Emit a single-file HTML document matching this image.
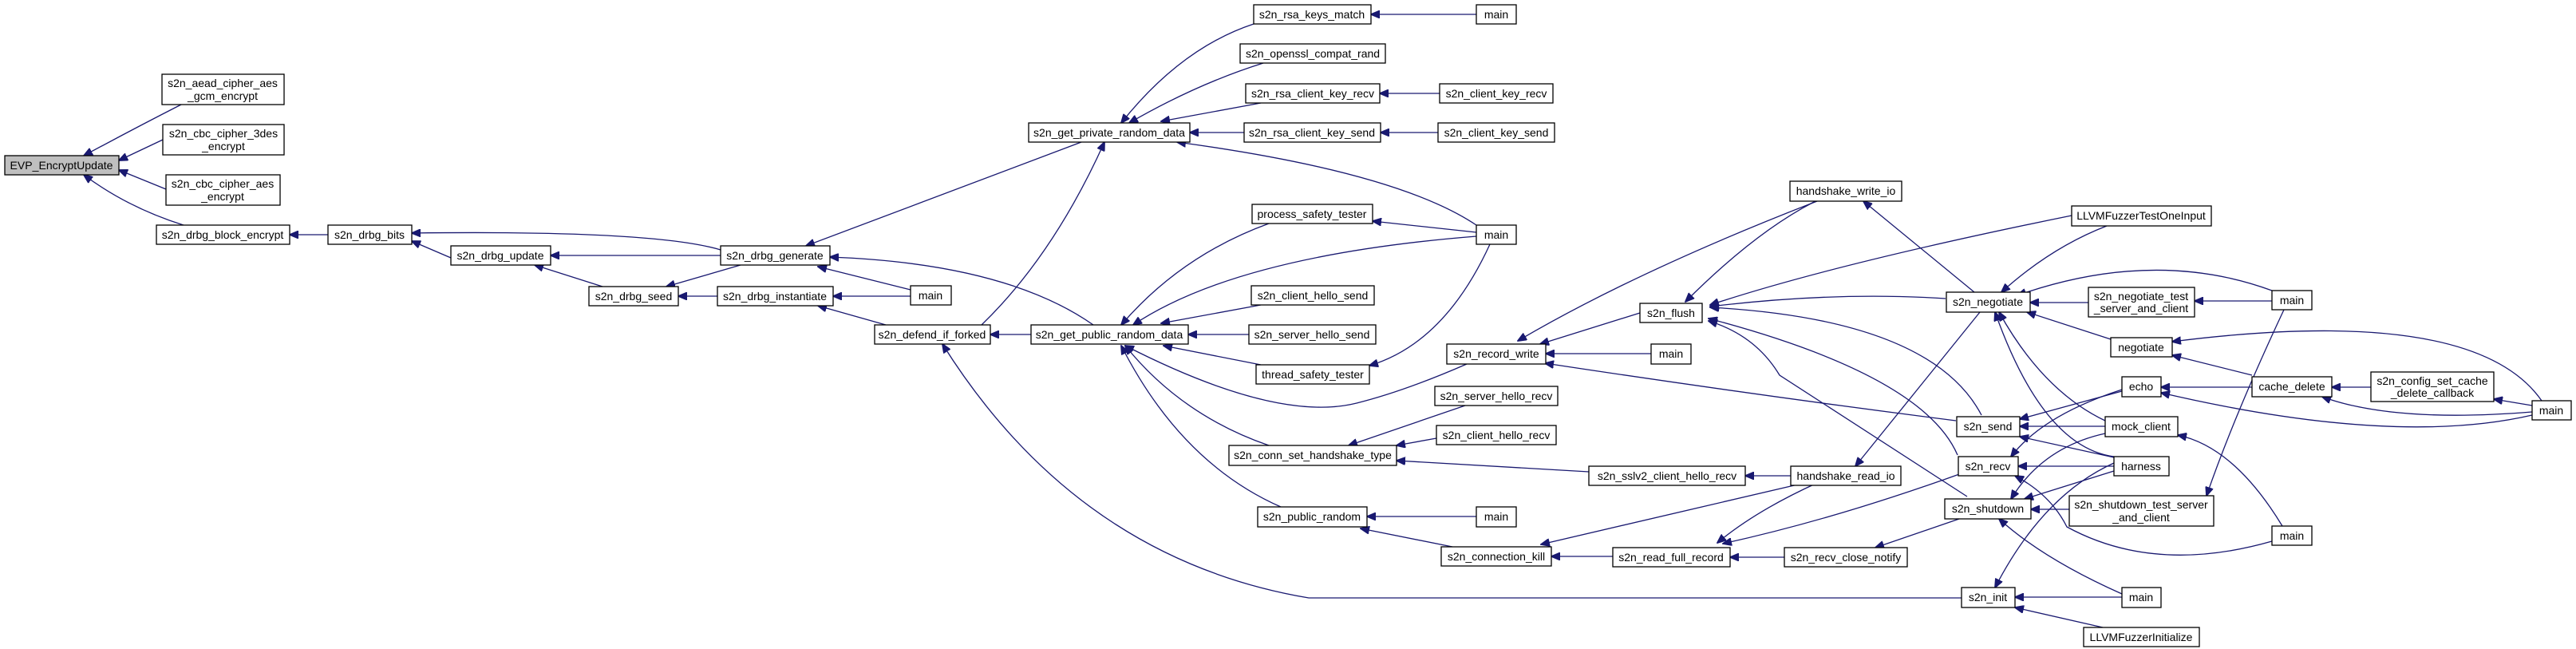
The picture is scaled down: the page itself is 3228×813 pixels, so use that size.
<!DOCTYPE html>
<html><head><meta charset="utf-8"><style>
html,body{margin:0;padding:0;background:#fff}
svg{display:block}
text{font-family:"Liberation Sans",sans-serif;font-size:14px;fill:#000}
rect{fill:#fff;stroke:#000;stroke-width:1.3}
path{fill:none;stroke:#191970;stroke-width:1.3}
</style></head><body>
<svg width="3228" height="813" viewBox="0 0 3228 813" xmlns="http://www.w3.org/2000/svg">
<defs><marker id="a" markerWidth="12" markerHeight="10" refX="11" refY="5" orient="auto" markerUnits="userSpaceOnUse"><polygon points="0,0 12,5 0,10" fill="#191970" stroke="#191970"/></marker></defs>
<g marker-end="url(#a)">
<path d="M227,131 Q170,160 105,195"/>
<path d="M204,175 L149,201"/>
<path d="M208,237 L149,213"/>
<path d="M230,282 Q160,260 105,219"/>
<path d="M411,294 L363,294"/>
<path d="M565,323 L516,302"/>
<path d="M903,313 Q820,288 516,292"/>
<path d="M903,320 L690,320"/>
<path d="M755,359 L670,332"/>
<path d="M928,332 L835,359"/>
<path d="M899,371 L850,371"/>
<path d="M1141,363 L1025,334"/>
<path d="M1141,371 L1044,371"/>
<path d="M1355,178 L1010,308"/>
<path d="M1370,407 Q1260,330 1040,322"/>
<path d="M1110,407 L1025,383"/>
<path d="M1230,407 Q1320,320 1384,178"/>
<path d="M1292,419 L1241,419"/>
<path d="M2458,749 L1640,749 Q1350,700 1181,431"/>
<path d="M1571,30 Q1480,60 1405,154"/>
<path d="M1583,79 Q1500,105 1415,154"/>
<path d="M1580,129 L1455,152"/>
<path d="M1559,166 L1491,166"/>
<path d="M1850,282 Q1750,215 1475,178"/>
<path d="M1850,18 L1718,18"/>
<path d="M1804,117 L1729,117"/>
<path d="M1802,166 L1730,166"/>
<path d="M1850,291 L1720,277"/>
<path d="M1850,296 Q1550,320 1420,407"/>
<path d="M1590,280 Q1480,320 1405,407"/>
<path d="M1580,382 L1455,405"/>
<path d="M1565,419 L1489,419"/>
<path d="M1580,457 L1458,433"/>
<path d="M1867,306 Q1810,430 1716,458"/>
<path d="M1838,456 Q1760,490 1700,505 Q1600,530 1410,433"/>
<path d="M1590,558 Q1480,520 1410,433"/>
<path d="M1605,635 Q1480,580 1405,433"/>
<path d="M1836,508 L1690,558"/>
<path d="M1800,549 L1750,558"/>
<path d="M1991,591 L1750,577"/>
<path d="M1850,647 L1713,647"/>
<path d="M1820,685 L1705,662"/>
<path d="M2021,697 L1944,697"/>
<path d="M2257,606 L1931,682"/>
<path d="M2055,392 L1930,431"/>
<path d="M2069,443 L1937,443"/>
<path d="M2277,252 Q2050,340 1902,427"/>
<path d="M2451,527 Q2200,495 1936,455"/>
<path d="M2275,252 Q2200,290 2112,378"/>
<path d="M2596,270 Q2300,330 2143,382"/>
<path d="M2438,374 Q2300,365 2143,384"/>
<path d="M2483,520 Q2420,400 2143,385"/>
<path d="M2465,622 Q2400,580 2230,470 Q2200,420 2141,402"/>
<path d="M2453,570 Q2410,470 2141,399"/>
<path d="M2244,596 L2187,596"/>
<path d="M2277,605 Q2200,640 2152,680"/>
<path d="M2458,593 Q2300,650 2159,681"/>
<path d="M2236,698 L2168,698"/>
<path d="M2455,650 L2350,686"/>
<path d="M2481,391 L2325,584"/>
<path d="M2474,366 L2335,252"/>
<path d="M2640,283 Q2570,310 2508,366"/>
<path d="M2847,364 Q2700,310 2528,370"/>
<path d="M2617,379 L2544,379"/>
<path d="M2847,377 L2750,377"/>
<path d="M2645,425 L2540,391"/>
<path d="M2638,527 Q2560,490 2505,391"/>
<path d="M2649,572 Q2560,560 2500,391"/>
<path d="M2862,388 Q2800,520 2765,621"/>
<path d="M3185,502 Q3100,380 2722,428"/>
<path d="M2822,470 L2722,445"/>
<path d="M2822,485 L2708,485"/>
<path d="M3173,520 Q3000,560 2708,492"/>
<path d="M2971,485 L2922,485"/>
<path d="M3173,508 L3125,500"/>
<path d="M3173,516 Q3000,530 2910,497"/>
<path d="M2659,490 L2531,525"/>
<path d="M2659,488 Q2560,520 2520,572"/>
<path d="M2638,534 L2531,534"/>
<path d="M2649,573 L2531,547"/>
<path d="M2649,584 L2529,584"/>
<path d="M2638,543 Q2560,560 2520,625"/>
<path d="M2649,590 L2537,625"/>
<path d="M2860,659 Q2800,560 2729,545"/>
<path d="M2847,678 Q2700,720 2590,660 Q2570,620 2525,596"/>
<path d="M2593,638 L2545,638"/>
<path d="M2659,744 Q2560,700 2505,650"/>
<path d="M2649,580 Q2560,620 2500,736"/>
<path d="M2659,748 L2525,748"/>
<path d="M2635,786 L2525,761"/>
</g>
<g>
<rect x="6" y="195" width="143" height="24" style="fill:#bfbfbf"/><text x="77" y="212" text-anchor="middle" textLength="129" lengthAdjust="spacingAndGlyphs">EVP_EncryptUpdate</text>
<rect x="203" y="93" width="153" height="38"/><text x="279" y="109" text-anchor="middle">s2n_aead_cipher_aes</text><text x="279" y="125" text-anchor="middle">_gcm_encrypt</text>
<rect x="204" y="156" width="152" height="38"/><text x="280" y="172" text-anchor="middle">s2n_cbc_cipher_3des</text><text x="280" y="188" text-anchor="middle">_encrypt</text>
<rect x="208" y="219" width="143" height="38"/><text x="279" y="235" text-anchor="middle">s2n_cbc_cipher_aes</text><text x="279" y="251" text-anchor="middle">_encrypt</text>
<rect x="196" y="282" width="167" height="24"/><text x="279" y="299" text-anchor="middle">s2n_drbg_block_encrypt</text>
<rect x="411" y="282" width="105" height="24"/><text x="463" y="299" text-anchor="middle">s2n_drbg_bits</text>
<rect x="565" y="308" width="125" height="24"/><text x="627" y="325" text-anchor="middle">s2n_drbg_update</text>
<rect x="903" y="308" width="137" height="24"/><text x="971" y="325" text-anchor="middle">s2n_drbg_generate</text>
<rect x="738" y="359" width="112" height="24"/><text x="794" y="376" text-anchor="middle">s2n_drbg_seed</text>
<rect x="899" y="359" width="145" height="24"/><text x="971" y="376" text-anchor="middle">s2n_drbg_instantiate</text>
<rect x="1141" y="358" width="51" height="24"/><text x="1166" y="375" text-anchor="middle">main</text>
<rect x="1096" y="407" width="145" height="24"/><text x="1168" y="424" text-anchor="middle">s2n_defend_if_forked</text>
<rect x="1289" y="154" width="202" height="24"/><text x="1390" y="171" text-anchor="middle">s2n_get_private_random_data</text>
<rect x="1292" y="407" width="197" height="24"/><text x="1390" y="424" text-anchor="middle">s2n_get_public_random_data</text>
<rect x="1571" y="6" width="147" height="24"/><text x="1644" y="23" text-anchor="middle">s2n_rsa_keys_match</text>
<rect x="1850" y="6" width="50" height="24"/><text x="1875" y="23" text-anchor="middle">main</text>
<rect x="1554" y="55" width="182" height="24"/><text x="1645" y="72" text-anchor="middle">s2n_openssl_compat_rand</text>
<rect x="1561" y="105" width="168" height="24"/><text x="1645" y="122" text-anchor="middle">s2n_rsa_client_key_recv</text>
<rect x="1804" y="105" width="142" height="24"/><text x="1875" y="122" text-anchor="middle">s2n_client_key_recv</text>
<rect x="1559" y="154" width="171" height="24"/><text x="1644" y="171" text-anchor="middle">s2n_rsa_client_key_send</text>
<rect x="1802" y="154" width="146" height="24"/><text x="1875" y="171" text-anchor="middle">s2n_client_key_send</text>
<rect x="1569" y="256" width="151" height="24"/><text x="1644" y="273" text-anchor="middle">process_safety_tester</text>
<rect x="1850" y="282" width="50" height="24"/><text x="1875" y="299" text-anchor="middle">main</text>
<rect x="1568" y="358" width="154" height="24"/><text x="1645" y="375" text-anchor="middle">s2n_client_hello_send</text>
<rect x="1565" y="407" width="159" height="24"/><text x="1644" y="424" text-anchor="middle">s2n_server_hello_send</text>
<rect x="1574" y="457" width="142" height="24"/><text x="1645" y="474" text-anchor="middle">thread_safety_tester</text>
<rect x="1813" y="431" width="124" height="25"/><text x="1875" y="448" text-anchor="middle">s2n_record_write</text>
<rect x="2055" y="380" width="78" height="24"/><text x="2094" y="397" text-anchor="middle">s2n_flush</text>
<rect x="2069" y="431" width="50" height="25"/><text x="2094" y="448" text-anchor="middle">main</text>
<rect x="1798" y="484" width="154" height="24"/><text x="1875" y="501" text-anchor="middle">s2n_server_hello_recv</text>
<rect x="1800" y="533" width="150" height="24"/><text x="1875" y="550" text-anchor="middle">s2n_client_hello_recv</text>
<rect x="1540" y="558" width="210" height="25"/><text x="1645" y="575" text-anchor="middle">s2n_conn_set_handshake_type</text>
<rect x="1991" y="584" width="196" height="24"/><text x="2089" y="601" text-anchor="middle">s2n_sslv2_client_hello_recv</text>
<rect x="1576" y="635" width="137" height="25"/><text x="1644" y="652" text-anchor="middle">s2n_public_random</text>
<rect x="1850" y="635" width="50" height="25"/><text x="1875" y="652" text-anchor="middle">main</text>
<rect x="1806" y="685" width="138" height="24"/><text x="1875" y="702" text-anchor="middle">s2n_connection_kill</text>
<rect x="2021" y="686" width="147" height="24"/><text x="2094" y="703" text-anchor="middle">s2n_read_full_record</text>
<rect x="2243" y="227" width="140" height="25"/><text x="2313" y="244" text-anchor="middle">handshake_write_io</text>
<rect x="2596" y="258" width="175" height="25"/><text x="2683" y="275" text-anchor="middle">LLVMFuzzerTestOneInput</text>
<rect x="2439" y="366" width="105" height="25"/><text x="2491" y="383" text-anchor="middle">s2n_negotiate</text>
<rect x="2617" y="360" width="133" height="37"/><text x="2683" y="376" text-anchor="middle">s2n_negotiate_test</text><text x="2683" y="391" text-anchor="middle">_server_and_client</text>
<rect x="2847" y="364" width="50" height="24"/><text x="2872" y="381" text-anchor="middle">main</text>
<rect x="2645" y="423" width="77" height="24"/><text x="2683" y="440" text-anchor="middle">negotiate</text>
<rect x="2659" y="472" width="49" height="25"/><text x="2683" y="489" text-anchor="middle">echo</text>
<rect x="2822" y="472" width="100" height="25"/><text x="2872" y="489" text-anchor="middle">cache_delete</text>
<rect x="2971" y="466" width="154" height="37"/><text x="3048" y="482" text-anchor="middle">s2n_config_set_cache</text><text x="3048" y="497" text-anchor="middle">_delete_callback</text>
<rect x="3173" y="502" width="49" height="24"/><text x="3197" y="519" text-anchor="middle">main</text>
<rect x="2452" y="522" width="79" height="25"/><text x="2491" y="539" text-anchor="middle">s2n_send</text>
<rect x="2638" y="522" width="91" height="25"/><text x="2683" y="539" text-anchor="middle">mock_client</text>
<rect x="2454" y="572" width="75" height="24"/><text x="2491" y="589" text-anchor="middle">s2n_recv</text>
<rect x="2649" y="572" width="69" height="24"/><text x="2683" y="589" text-anchor="middle">harness</text>
<rect x="2244" y="584" width="138" height="24"/><text x="2313" y="601" text-anchor="middle">handshake_read_io</text>
<rect x="2437" y="625" width="108" height="25"/><text x="2491" y="642" text-anchor="middle">s2n_shutdown</text>
<rect x="2593" y="621" width="181" height="38"/><text x="2683" y="637" text-anchor="middle">s2n_shutdown_test_server</text><text x="2683" y="653" text-anchor="middle">_and_client</text>
<rect x="2847" y="659" width="50" height="24"/><text x="2872" y="676" text-anchor="middle">main</text>
<rect x="2236" y="686" width="154" height="24"/><text x="2313" y="703" text-anchor="middle">s2n_recv_close_notify</text>
<rect x="2458" y="736" width="67" height="25"/><text x="2491" y="753" text-anchor="middle">s2n_init</text>
<rect x="2659" y="736" width="49" height="25"/><text x="2683" y="753" text-anchor="middle">main</text>
<rect x="2611" y="786" width="145" height="24"/><text x="2683" y="803" text-anchor="middle">LLVMFuzzerInitialize</text>
</g>
</svg>
</body></html>
